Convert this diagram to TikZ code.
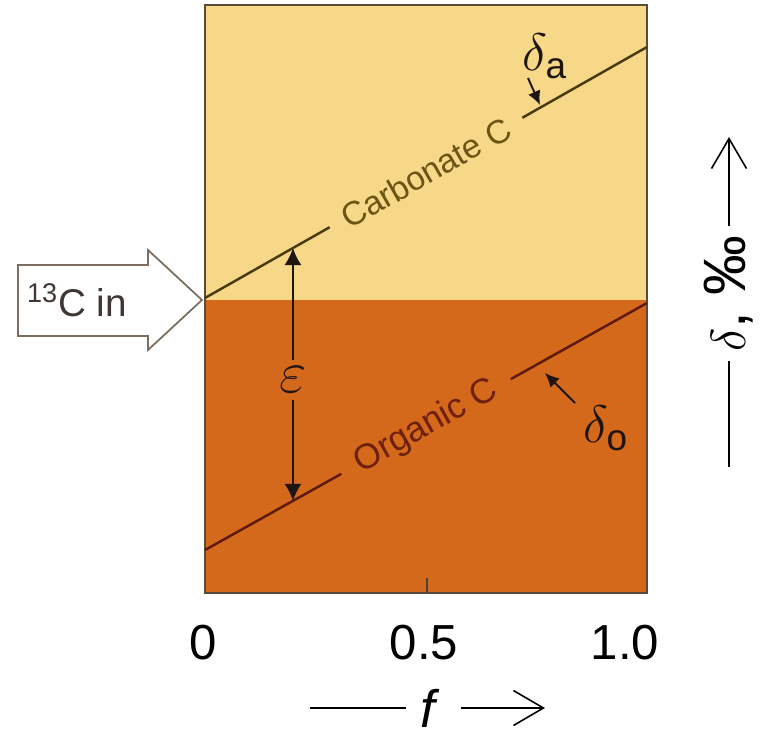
\documentclass[tikz,border=0pt]{standalone}
\usepackage{fix-cm}
\usepackage{amsmath}
\usepackage{fontspec}
\setmainfont{Liberation Sans}
\usetikzlibrary{arrows.meta,calc}
\definecolor{carbfill}{HTML}{F6D888}
\definecolor{orgfill}{HTML}{D4691C}
\definecolor{framegray}{HTML}{5A4A3A}
\definecolor{carbline}{HTML}{4A3A12}
\definecolor{carbtext}{HTML}{6B5416}
\definecolor{orgline}{HTML}{5E1A0C}
\definecolor{orgtext}{HTML}{6E200E}
\definecolor{ptrdark}{HTML}{1E1410}
\tikzset{
  frame/.style={draw=framegray, line width=1.1pt},
  isoline/.style={line width=1.4pt},
  isolbl/.style={sloped, inner ysep=0pt, font=\fontsize{19}{22}\selectfont},
  ptr/.style={-{Latex[length=2.8mm,width=2.6mm]}, line width=1.1pt, draw=ptrdark},
  epsarr/.style={-{Latex[length=3.4mm,width=3.4mm]}, line width=1pt, draw=ptrdark},
  symlbl/.style={font=\fontsize{30}{34}\selectfont, inner sep=0pt},
  ticklbl/.style={font=\fontsize{28}{32}\selectfont, inner sep=0pt},
  axline/.style={line width=0.9pt},
  axtip/.style={-{Straight Barb[length=6mm,width=7mm]}},
  inbox/.style={draw=framegray!80, line width=1pt, fill=white},
}

\begin{document}
\begin{tikzpicture}
  \useasboundingbox (-4.10,-2.88) rectangle (11.14,11.86);
  \fill[carbfill] (0,5.86) rectangle (8.84,11.76);
  \fill[orgfill] (0,0) rectangle (8.84,5.86);
  \draw[frame] (0,0) rectangle (8.84,11.76);
  \draw[frame, draw=ptrdark!80] (4.44,0) -- (4.44,0.3);

  \coordinate (c0) at (0,5.9);
  \coordinate (c1) at (8.84,10.92);
  \coordinate (o0) at (0,0.86);
  \coordinate (o1) at (8.84,5.8);
  \path (c0) -- (c1) node[isolbl, text=carbtext, inner xsep=9pt, pos=0.5] (carb) {Carbonate C};
  \path (o0) -- (o1) node[isolbl, text=orgtext, inner xsep=10pt, pos=0.5, font=\fontsize{20}{24}\selectfont] (org) {Organic C};
  \draw[isoline, carbline] (c0) -- (carb);
  \draw[isoline, carbline] (carb) -- (c1);
  \draw[isoline, orgline] (o0) -- (org);
  \draw[isoline, orgline] (org) -- (o1);

  \coordinate (etop) at ($(c0)!0.199!(c1)$);
  \coordinate (ebot) at ($(o0)!0.199!(o1)$);
  \node[symlbl, text=ptrdark!85!orgtext, inner sep=4pt, font=\fontsize{34}{38}\selectfont] (eps) at (1.76,4.26) {$\varepsilon$};
  \draw[epsarr] (eps) -- (etop);
  \draw[epsarr] (eps) -- (ebot);

  \node[symlbl, text=ptrdark] (da) at (6.8,10.74) {$\delta_{\text{a}}$};
  \coordinate (datail) at (6.46,10.3);
  \coordinate (datip) at (6.70,9.76);
  \draw[ptr] (datail) -- (datip);
  \node[symlbl, text=ptrdark] (do) at (8.02,3.3) {$\delta_{\text{o}}$};
  \coordinate (dotail) at (7.40,3.80);
  \coordinate (dotip) at (6.80,4.40);
  \draw[ptr] (dotail) -- (dotip);

  \draw[inbox] (-3.74,5.14) -- (-1.14,5.14) -- (-1.14,4.86) -- (-0.06,5.86)
    -- (-1.14,6.86) -- (-1.14,6.56) -- (-3.74,6.56) -- cycle;
  \node[font=\fontsize{22}{26}\selectfont, text=ptrdark!85, inner sep=0pt] (cin) at (-2.56,5.86) {\textsuperscript{13}C in};

  \node[rotate=90, inner sep=5pt, font=\fontsize{34}{38}\selectfont] (dax) at (10.48,5.99) {{\fontsize{28}{32}\selectfont$\delta$}, ‰};
  \coordinate (axbot) at (10.48,2.52);
  \coordinate (axtop) at (10.48,9.12);
  \draw[axline] (axbot) -- (dax);
  \draw[axline, axtip] (dax) -- (axtop);

  \node[ticklbl] (t0) at (-0.04,-1.0) {0};
  \node[ticklbl] (t5) at (4.38,-1.0) {0.5};
  \node[ticklbl] (t10) at (8.4,-1.0) {1.0};

  \node[font=\fontsize{30}{34}\selectfont, inner sep=0pt] (flab) at (4.5,-2.3) {\textit{f}};
  \coordinate (fleft) at (2.1,-2.3);
  \coordinate (fright) at (6.8,-2.3);
  \draw[axline] (fleft) -- ([xshift=-8pt]flab.west);
  \draw[axline, axtip] ([xshift=12pt]flab.east) -- (fright);
\end{tikzpicture}
\end{document}
